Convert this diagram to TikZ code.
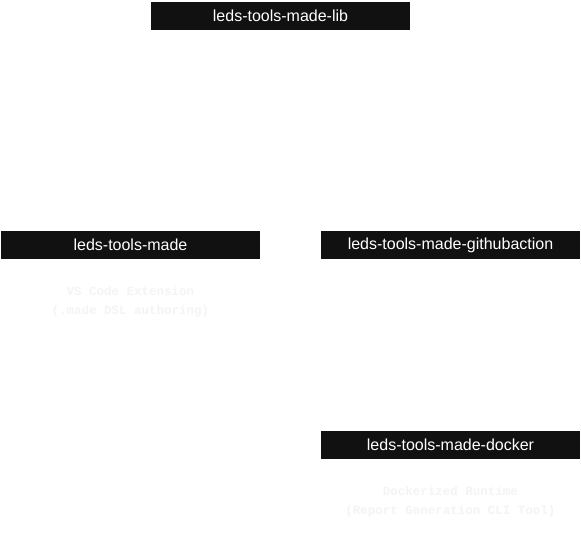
\documentclass[tikz,border=0pt]{standalone}
\usepackage{fontspec}
\setmainfont{Liberation Sans}
\newfontfamily\monofont{Liberation Mono}
\definecolor{barc}{HTML}{111111}
\definecolor{faint}{HTML}{F4F4F4}
\tikzset{
  headbar/.style={fill=barc, draw=none, minimum width=259pt, minimum height=28pt, inner sep=0pt,
    text=white, font=\fontsize{16}{18}\selectfont},
  bodytext/.style={text=faint, align=center, font=\monofont\bfseries\fontsize{12.5}{19}\selectfont, inner sep=0pt},
  link/.style={draw=white, line width=0.6pt}
}
\begin{document}
\begin{tikzpicture}[x=1pt,y=-1pt]
\useasboundingbox[fill=white] (0,0) rectangle (581,542);
\node[headbar] (lib) at (280.5,15.5) {leds-tools-made-lib};
\node[headbar] (made) at (130.5,245) {leds-tools-made};
\node[headbar] (gha) at (450.5,245) {leds-tools-made-githubaction};
\node[headbar] (dock) at (450.5,445) {leds-tools-made-docker};
\node[bodytext] (madebody) at (130.5,301.5) {VS Code Extension\\(.made DSL authoring)};
\node[bodytext] (dockbody) at (450.5,501.5) {Dockerized Runtime\\(Report Generation CLI Tool)};
\end{tikzpicture}
\end{document}
